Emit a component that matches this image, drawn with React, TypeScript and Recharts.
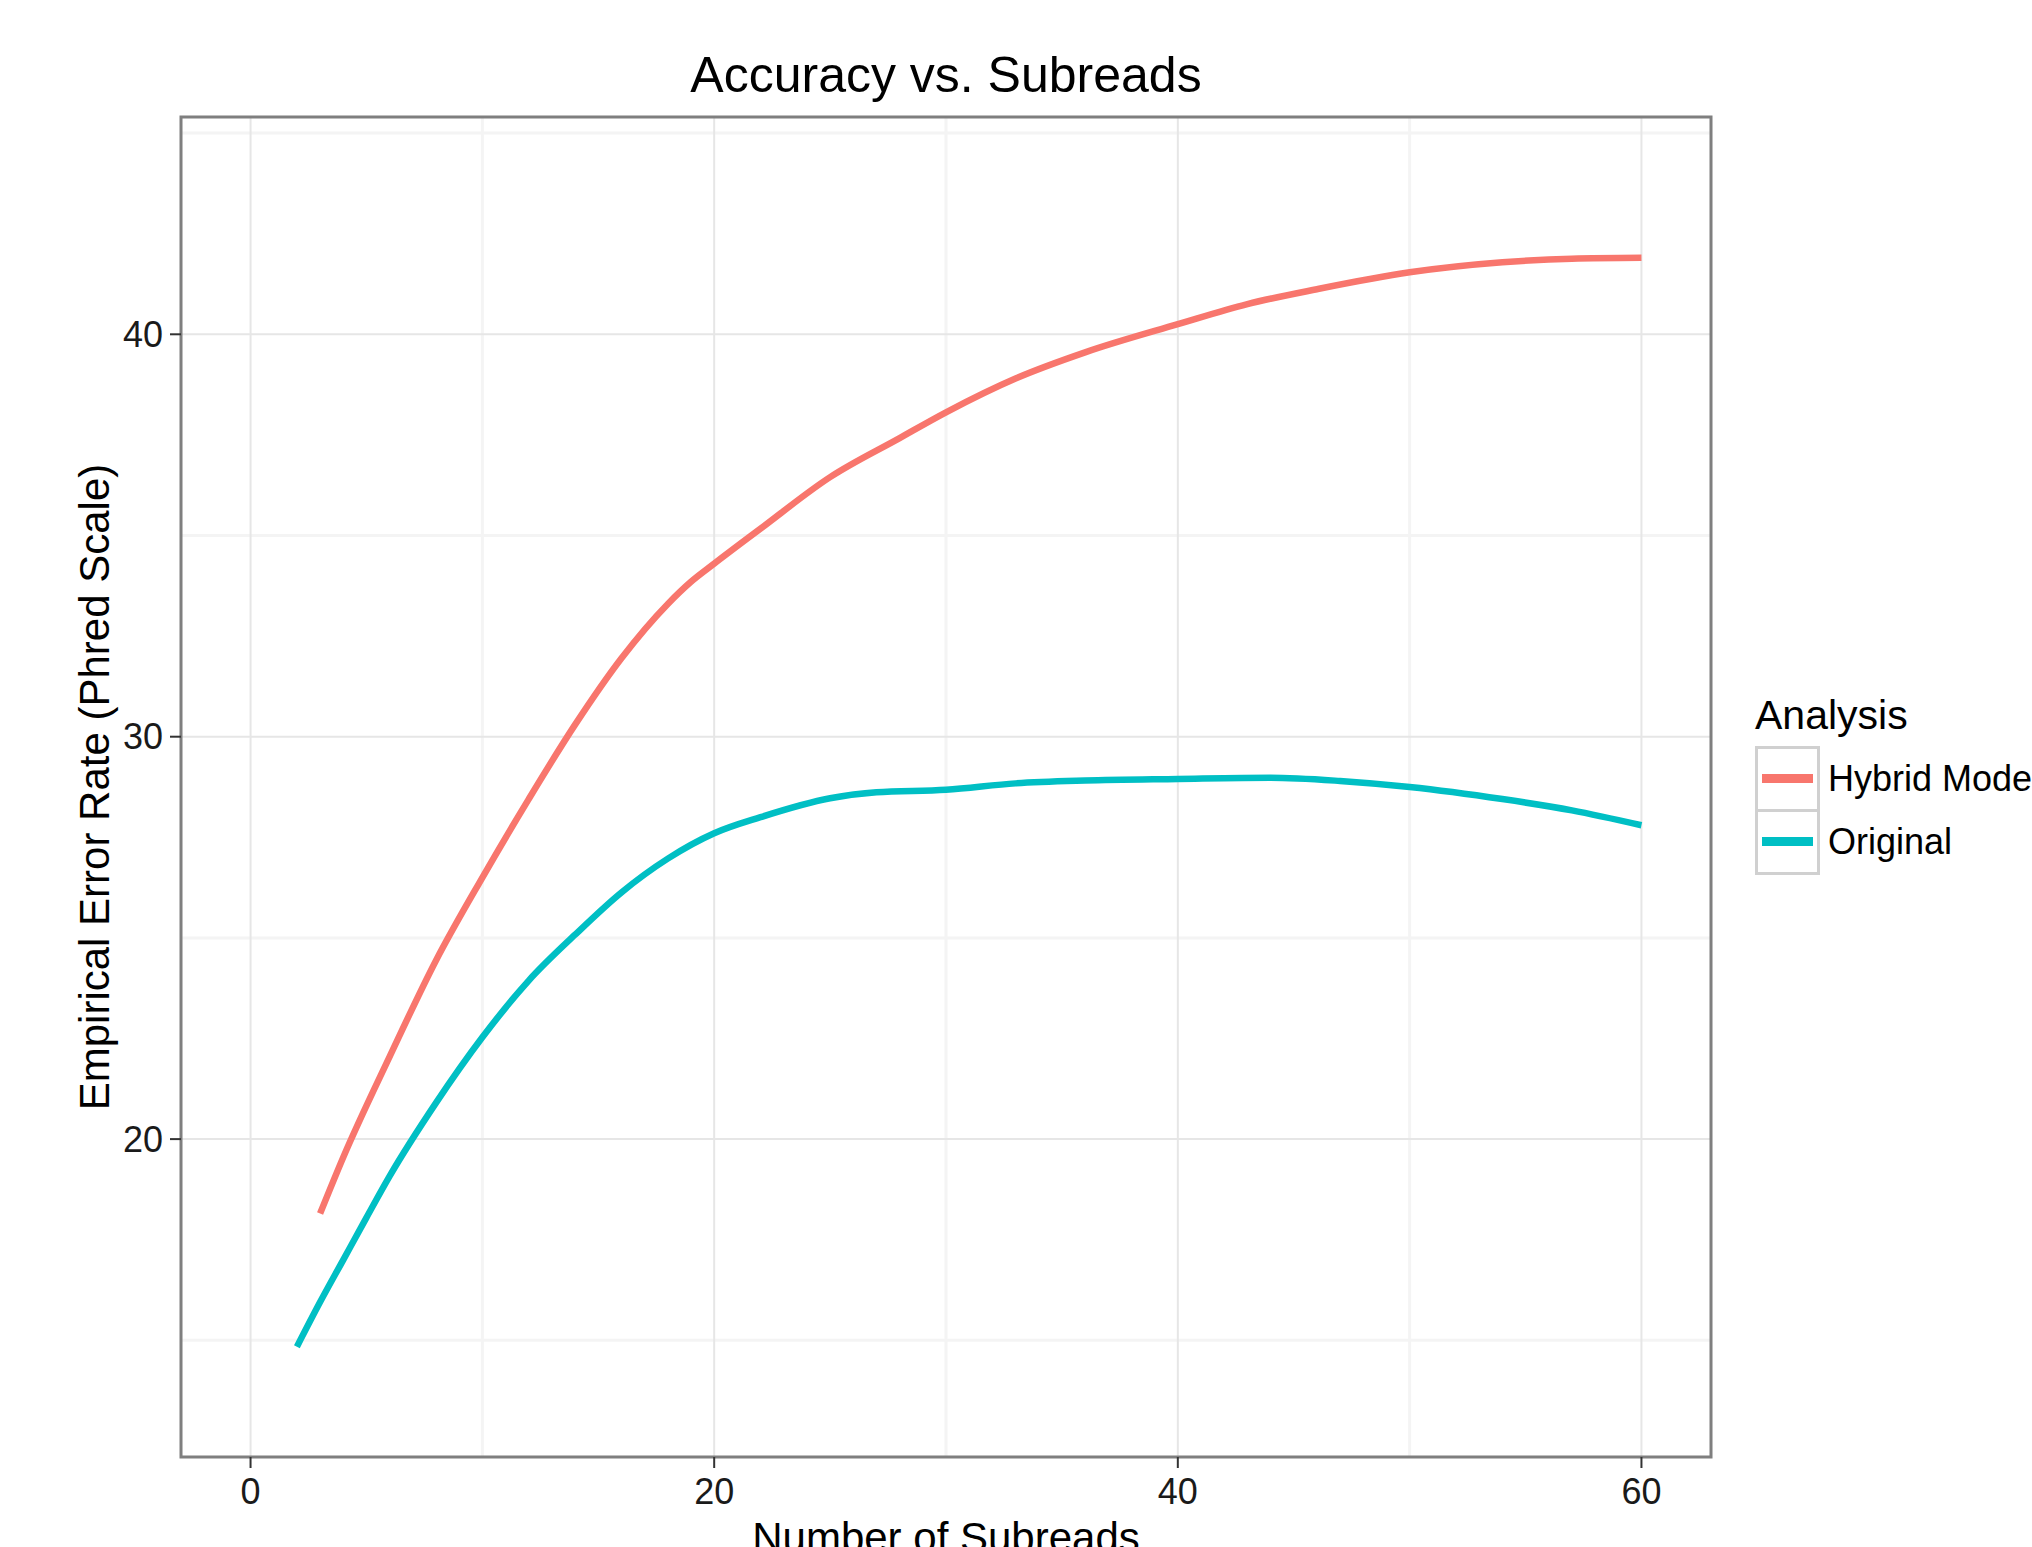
import React from 'react'
import { CartesianGrid, Legend, Line, LineChart, ReferenceArea, XAxis, YAxis } from 'recharts'

const FONT = '"Liberation Sans", Arial, sans-serif'

const hybridX = [3, 4, 6, 8, 10, 12, 14, 16, 18, 19, 20, 22, 25, 28, 30, 33, 36, 40, 43, 46, 50, 54, 57, 60]
const hybridY = [18.15, 19.55, 22.05, 24.44, 26.5, 28.45, 30.3, 31.95, 33.3, 33.85, 34.3, 35.17, 36.45, 37.42, 38.06, 38.9, 39.55, 40.25, 40.75, 41.12, 41.54, 41.79, 41.88, 41.9]

const originalX = [2, 3, 4, 5, 6, 8, 10, 12, 14, 16, 18, 20, 22, 25, 27, 30, 33, 36, 40, 44, 47, 50, 54, 57, 60]
const originalY = [14.84, 15.95, 17.0, 18.05, 19.08, 20.9, 22.53, 23.94, 25.08, 26.13, 26.97, 27.6, 28.0, 28.47, 28.62, 28.68, 28.84, 28.91, 28.95, 28.98, 28.9, 28.75, 28.45, 28.17, 27.8]

const seriesNames = ['Hybrid Model', 'Original']
const seriesColors = ['#F8766D', '#00BFC4']

const xTicks = [0, 20, 40, 60]
const yTicks = [20, 30, 40]
const xMinor = [10, 30, 50]
const yMinor = [15, 25, 35, 45]
const xDomain = [-3, 63]
const yDomain = [12.1, 45.4]

const hybridData = hybridX.map((x, i) => ({ x, y: hybridY[i] }))
const originalData = originalX.map((x, i) => ({ x, y: originalY[i] }))

const AnalysisLegend = (props: any) => {
  const items = props.payload ?? []
  return (
    <div style={{ position: 'relative', width: 321, height: 200, fontFamily: FONT, color: '#000', whiteSpace: 'nowrap' }}>
      <div style={{ position: 'absolute', left: 44, top: 7, fontSize: 41, lineHeight: '41px' }}>Analysis</div>
      {items.map((item: any, i: number) => (
        <React.Fragment key={item.value}>
          <div
            style={{
              position: 'absolute',
              left: 44,
              top: 58 + i * 63,
              width: 65,
              height: 66,
              border: '3px solid #d0d0d0',
              boxSizing: 'border-box',
            }}
          />
          <div style={{ position: 'absolute', left: 51, top: 86 + i * 63, width: 51, height: 9, background: item.color }} />
          <div style={{ position: 'absolute', left: 117, top: 73 + i * 63, fontSize: 36, lineHeight: '36px' }}>{item.value}</div>
        </React.Fragment>
      ))}
    </div>
  )
}

export default function App() {
  return (
    <div
      style={{
        position: 'absolute',
        top: 8,
        left: 8,
        width: 2024,
        height: 1539,
        overflow: 'hidden',
        background: '#fff',
        fontFamily: FONT,
      }}
    >
      <div
        style={{
          position: 'absolute',
          left: 0,
          top: 42,
          width: 1876,
          textAlign: 'center',
          fontSize: 50,
          lineHeight: '50px',
          color: '#000',
        }}
      >
        Accuracy vs. Subreads
      </div>
      <LineChart width={2024} height={1539} margin={{ top: 109, right: 0, bottom: 0, left: 0 }}>
        <CartesianGrid stroke="#f4f4f4" strokeWidth={3} verticalValues={xMinor} horizontalValues={yMinor} />
        <CartesianGrid stroke="#e6e6e6" strokeWidth={2} verticalValues={xTicks} horizontalValues={yTicks} />
        <XAxis
          type="number"
          dataKey="x"
          domain={xDomain}
          ticks={xTicks}
          height={90}
          axisLine={false}
          tickSize={11}
          tickMargin={10}
          tickLine={{ stroke: '#333', strokeWidth: 2 }}
          tick={{ fontSize: 36, fill: '#1a1a1a', fontFamily: FONT }}
          label={{ value: 'Number of Subreads', position: 'insideTop', offset: 65, fontSize: 42, fill: '#000', fontFamily: FONT }}
        />
        <YAxis
          type="number"
          domain={yDomain}
          ticks={yTicks}
          width={173}
          axisLine={false}
          tickSize={11}
          tickMargin={7}
          tickLine={{ stroke: '#333', strokeWidth: 2 }}
          tick={{ fontSize: 36, fill: '#1a1a1a', fontFamily: FONT }}
          label={{
            value: 'Empirical Error Rate (Phred Scale)',
            angle: -90,
            position: 'center',
            fontSize: 42,
            fill: '#000',
            fontFamily: FONT,
          }}
        />
        <ReferenceArea
          x1={xDomain[0]}
          x2={xDomain[1]}
          y1={yDomain[0]}
          y2={yDomain[1]}
          fill="none"
          fillOpacity={0}
          stroke="#7f7f7f"
          strokeWidth={3}
          ifOverflow="visible"
        />
        <Line
          data={hybridData}
          dataKey="y"
          name={seriesNames[0]}
          type="monotone"
          stroke={seriesColors[0]}
          strokeWidth={6.5}
          dot={false}
          isAnimationActive={false}
        />
        <Line
          data={originalData}
          dataKey="y"
          name={seriesNames[1]}
          type="monotone"
          stroke={seriesColors[1]}
          strokeWidth={6.5}
          dot={false}
          isAnimationActive={false}
        />
        <Legend
          layout="vertical"
          align="right"
          verticalAlign="middle"
          content={<AnalysisLegend />}
          wrapperStyle={{ left: 1703, top: 680, right: 'auto', bottom: 'auto', width: 321, height: 200 }}
        />
      </LineChart>
    </div>
  )
}
